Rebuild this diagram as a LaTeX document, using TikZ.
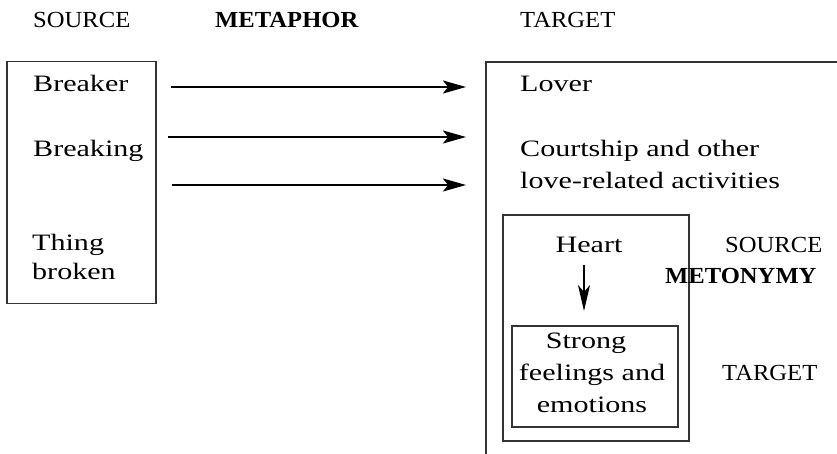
\documentclass[tikz,border=0pt]{standalone}
\usepackage{fontspec}
\setmainfont{Liberation Serif}
\newfontfamily\capsf[FakeStretch=1.07]{Liberation Serif}
\newfontfamily\bodyf[FakeStretch=1.28]{Liberation Serif}
\usetikzlibrary{arrows.meta}
\begin{document}
\begin{tikzpicture}[x=1pt,y=-1pt,
  lbl/.style={anchor=base west, inner sep=0pt, font=\bodyf\fontsize{23.5}{28}\selectfont},
  lblc/.style={lbl, anchor=base},
  capl/.style={anchor=base west, inner sep=0pt, font=\capsf\fontsize{23}{28}\selectfont},
  capbl/.style={capl, font=\capsf\bfseries\fontsize{23}{28}\selectfont},
  box/.style={draw=black!80, line width=1.2pt, inner sep=0pt},
  maparrow/.style={line width=2.2pt, -{Stealth[length=23pt,width=13pt,inset=5pt]}},
  metarrow/.style={line width=2.2pt, -{Stealth[length=26pt,width=12pt,inset=7pt]}},
]
\useasboundingbox (0,0) rectangle (837,454);

% headings
\node[capl]  (hsrc) at (33,28)  {SOURCE};
\node[capbl] (hmet) at (215,28) {METAPHOR};
\node[capl]  (htgt) at (520,28) {TARGET};

% source box
\node[box, minimum width=149pt, minimum height=242pt] (srcbox) at (81.5,182.5) {};
\node[lbl] (breaker)  at (33,92)  {Breaker};
\node[lbl] (breaking) at (33,157) {Breaking};
\node[lbl] (thing)    at (32,251) {Thing};
\node[lbl] (broken)   at (32,279) {broken};

% target (open) box
\coordinate (tr) at (837,62);
\coordinate (tc) at (486,62);
\coordinate (tb) at (486,454);
\draw[draw=black!80, line width=1.2pt] (tr) -- (tc) -- (tb);
\node[lbl] (lover)  at (520,92)  {Lover};
\node[lbl] (court)  at (520,157) {Courtship and other};
\node[lbl] (love)   at (520,189) {love-related activities};

% mapping arrows
\coordinate (a1s) at (171,87);  \coordinate (a1e) at (466,87);
\coordinate (a2s) at (168,137); \coordinate (a2e) at (466,137);
\coordinate (a3s) at (172,185); \coordinate (a3e) at (466,185);
\draw[maparrow] (a1s) -- (a1e);
\draw[maparrow] (a2s) -- (a2e);
\draw[maparrow] (a3s) -- (a3e);

% metonymy boxes
\node[box, minimum width=186pt, minimum height=226pt] (metbox) at (596,328) {};
\node[box, minimum width=166pt, minimum height=101pt] (emobox) at (595,376.5) {};
\node[lblc] (heart) at (589,252) {Heart};
\node[lblc] (strong)   at (586,348) {Strong};
\node[lblc] (feelings) at (592,380) {feelings and};
\node[lblc] (emotions) at (592,412) {emotions};
\coordinate (ds) at (584,265);
\coordinate (de) at (584,311);
\draw[metarrow] (ds) -- (de);

\node[capl]  (msrc) at (725,252) {SOURCE};
\node[capbl] (mmet) at (665,283) {METONYMY};
\node[capl]  (mtgt) at (722,380) {TARGET};
\end{tikzpicture}
\end{document}
